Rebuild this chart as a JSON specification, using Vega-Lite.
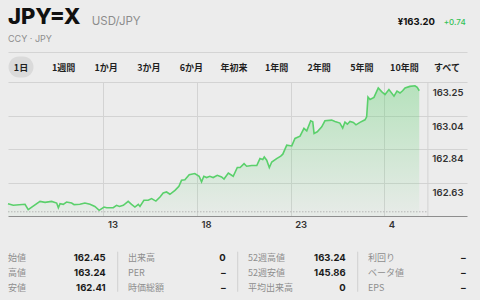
{
  "$schema": "https://vega.github.io/schema/vega-lite/v6.json",
  "background": "#ececec",
  "padding": {"left": 4, "top": 0, "right": 17, "bottom": 0},
  "spacing": 0,
  "bounds": "flush",
  "config": {"view": {"stroke": null}, "font": "Inter"},
  "datasets": {
    "header": [
      {"part": "symbol", "text": "JPY=X"},
      {"part": "name", "text": "USD/JPY"},
      {"part": "exchange", "text": "CCY · JPY"},
      {"part": "price", "text": "¥163.20"},
      {"part": "change", "text": "+0.74"}
    ],
    "tabs": [
      {"tab": "1日", "selected": true},
      {"tab": "1週間", "selected": false},
      {"tab": "1か月", "selected": false},
      {"tab": "3か月", "selected": false},
      {"tab": "6か月", "selected": false},
      {"tab": "年初来", "selected": false},
      {"tab": "1年間", "selected": false},
      {"tab": "2年間", "selected": false},
      {"tab": "5年間", "selected": false},
      {"tab": "10年間", "selected": false},
      {"tab": "すべて", "selected": false}
    ],
    "price": [
      {"t": 7.90, "v": 162.500}, {"t": 8.18, "v": 162.490}, {"t": 8.81, "v": 162.496}, {"t": 8.98, "v": 162.463},
      {"t": 9.17, "v": 162.479}, {"t": 9.61, "v": 162.514}, {"t": 9.88, "v": 162.508}, {"t": 10.23, "v": 162.514},
      {"t": 10.50, "v": 162.504}, {"t": 10.59, "v": 162.475}, {"t": 10.68, "v": 162.500}, {"t": 10.85, "v": 162.496},
      {"t": 11.03, "v": 162.510}, {"t": 11.30, "v": 162.504}, {"t": 11.43, "v": 162.494}, {"t": 11.74, "v": 162.496},
      {"t": 12.01, "v": 162.504}, {"t": 12.28, "v": 162.496}, {"t": 12.54, "v": 162.483}, {"t": 12.77, "v": 162.459},
      {"t": 13.03, "v": 162.479}, {"t": 13.17, "v": 162.475}, {"t": 13.52, "v": 162.475}, {"t": 13.70, "v": 162.490},
      {"t": 13.85, "v": 162.483}, {"t": 14.06, "v": 162.490}, {"t": 14.32, "v": 162.514}, {"t": 14.50, "v": 162.496},
      {"t": 14.68, "v": 162.479}, {"t": 14.86, "v": 162.496}, {"t": 14.95, "v": 162.483}, {"t": 15.16, "v": 162.521},
      {"t": 15.39, "v": 162.521}, {"t": 15.57, "v": 162.531}, {"t": 15.80, "v": 162.516}, {"t": 16.02, "v": 162.541},
      {"t": 16.19, "v": 162.566}, {"t": 16.37, "v": 162.572}, {"t": 16.55, "v": 162.558}, {"t": 16.82, "v": 162.582},
      {"t": 17.03, "v": 162.607}, {"t": 17.17, "v": 162.644}, {"t": 17.35, "v": 162.648}, {"t": 17.58, "v": 162.679},
      {"t": 17.88, "v": 162.686}, {"t": 18.11, "v": 162.669}, {"t": 18.24, "v": 162.634}, {"t": 18.36, "v": 162.669},
      {"t": 18.51, "v": 162.661}, {"t": 18.68, "v": 162.669}, {"t": 18.86, "v": 162.661}, {"t": 19.08, "v": 162.675},
      {"t": 19.31, "v": 162.665}, {"t": 19.44, "v": 162.652}, {"t": 19.67, "v": 162.689}, {"t": 19.93, "v": 162.669},
      {"t": 20.15, "v": 162.723}, {"t": 20.30, "v": 162.723}, {"t": 20.51, "v": 162.747}, {"t": 20.65, "v": 162.731},
      {"t": 20.92, "v": 162.735}, {"t": 21.19, "v": 162.735}, {"t": 21.36, "v": 162.778}, {"t": 21.51, "v": 162.772},
      {"t": 21.59, "v": 162.788}, {"t": 21.72, "v": 162.768}, {"t": 21.86, "v": 162.723}, {"t": 21.99, "v": 162.757},
      {"t": 22.25, "v": 162.778}, {"t": 22.47, "v": 162.793}, {"t": 22.58, "v": 162.805}, {"t": 22.79, "v": 162.861},
      {"t": 23.06, "v": 162.856}, {"t": 23.23, "v": 162.902}, {"t": 23.50, "v": 162.916}, {"t": 23.71, "v": 162.964},
      {"t": 23.86, "v": 162.949}, {"t": 24.07, "v": 163.011}, {"t": 24.18, "v": 163.005}, {"t": 24.25, "v": 162.933},
      {"t": 24.42, "v": 162.943}, {"t": 24.66, "v": 162.974}, {"t": 24.83, "v": 163.011}, {"t": 25.19, "v": 163.015},
      {"t": 25.37, "v": 163.007}, {"t": 25.63, "v": 162.997}, {"t": 25.78, "v": 162.966}, {"t": 25.90, "v": 163.003},
      {"t": 26.03, "v": 162.990}, {"t": 26.17, "v": 163.007}, {"t": 26.35, "v": 163.001}, {"t": 26.49, "v": 162.986},
      {"t": 26.70, "v": 163.001}, {"t": 26.97, "v": 163.017}, {"t": 27.06, "v": 163.035}, {"t": 27.13, "v": 163.157},
      {"t": 27.24, "v": 163.142}, {"t": 27.45, "v": 163.155}, {"t": 27.68, "v": 163.213}, {"t": 27.86, "v": 163.191},
      {"t": 28.04, "v": 163.173}, {"t": 28.25, "v": 163.204}, {"t": 28.52, "v": 163.163}, {"t": 28.68, "v": 163.194},
      {"t": 28.84, "v": 163.182}, {"t": 28.98, "v": 163.196}, {"t": 29.11, "v": 163.213}, {"t": 29.37, "v": 163.223},
      {"t": 29.64, "v": 163.227}, {"t": 29.76, "v": 163.217}, {"t": 29.87, "v": 163.196}
    ],
    "ref": [{"prevClose": 162.45}],
    "stats": [
      {"col": 1, "row": 1, "label": "始値", "value": "162.45"},
      {"col": 1, "row": 2, "label": "高値", "value": "163.24"},
      {"col": 1, "row": 3, "label": "安値", "value": "162.41"},
      {"col": 2, "row": 1, "label": "出来高", "value": "0"},
      {"col": 2, "row": 2, "label": "PER", "value": "–"},
      {"col": 2, "row": 3, "label": "時価総額", "value": "–"},
      {"col": 3, "row": 1, "label": "52週高値", "value": "163.24"},
      {"col": 3, "row": 2, "label": "52週安値", "value": "145.86"},
      {"col": 3, "row": 3, "label": "平均出来高", "value": "0"},
      {"col": 4, "row": 1, "label": "利回り", "value": "–"},
      {"col": 4, "row": 2, "label": "ベータ値", "value": "–"},
      {"col": 4, "row": 3, "label": "EPS", "value": "–"}
    ]
  },
  "vconcat": [
    {
      "width": 459,
      "height": 52,
      "data": {"name": "header"},
      "layer": [
        {
          "transform": [{"filter": "datum.part === 'symbol'"}],
          "mark": {"type": "text", "align": "left", "baseline": "alphabetic", "dy": -2, "font": "Inter", "fontSize": 22, "fontWeight": 800, "color": "#111111"},
          "encoding": {
            "x": {"datum": 0, "type": "quantitative", "scale": {"domain": [0, 1], "range": [0, 459]},
                  "axis": {"orient": "bottom", "domain": true, "domainColor": "#d4d4d4", "labels": false, "ticks": false, "grid": false, "title": null}},
            "text": {"field": "text"}
          }
        },
        {
          "transform": [{"filter": "datum.part === 'name'"}],
          "mark": {"type": "text", "align": "left", "baseline": "alphabetic", "dx": 83.7, "dy": -1, "font": "Inter", "fontSize": 11.5, "color": "#8c8c8c"},
          "encoding": {"x": {"datum": 0, "type": "quantitative"}, "text": {"field": "text"}}
        },
        {
          "transform": [{"filter": "datum.part === 'exchange'"}],
          "mark": {"type": "text", "align": "left", "baseline": "alphabetic", "dy": 15.7, "font": "Inter", "fontSize": 9, "color": "#8e8e8e"},
          "encoding": {"x": {"datum": 0, "type": "quantitative"}, "text": {"field": "text"}}
        },
        {
          "transform": [{"filter": "datum.part === 'price'"}],
          "mark": {"type": "text", "align": "right", "baseline": "alphabetic", "dx": -32, "dy": -1, "font": "Inter", "fontSize": 9.5, "fontWeight": 700, "color": "#111111"},
          "encoding": {"x": {"datum": 1, "type": "quantitative"}, "text": {"field": "text"}}
        },
        {
          "transform": [{"filter": "datum.part === 'change'"}],
          "mark": {"type": "text", "align": "right", "baseline": "alphabetic", "dx": -1.3, "dy": -1.3, "font": "Inter", "fontSize": 8, "fontWeight": 500, "color": "#35c257"},
          "encoding": {"x": {"datum": 1, "type": "quantitative"}, "text": {"field": "text"}}
        }
      ]
    },
    {
      "width": 459,
      "height": 30,
      "data": {"name": "tabs"},
      "layer": [
        {
          "transform": [{"filter": "datum.selected"}],
          "mark": {"type": "bar", "width": 25, "cornerRadius": 10.5, "color": "#dadada"},
          "encoding": {
            "x": {"field": "tab", "type": "nominal", "sort": null, "scale": {"type": "point", "range": [13, 439], "padding": 0}, "axis": null},
            "y": {"datum": "sel", "type": "nominal", "scale": {"type": "band", "paddingOuter": 0.214, "paddingInner": 0}, "axis": null}
          }
        },
        {
          "mark": {"type": "text", "baseline": "middle", "dy": 0.7, "font": "Noto Sans CJK JP", "fontSize": 9, "fontWeight": 700, "color": "#1f1f1f"},
          "encoding": {
            "x": {"field": "tab", "type": "nominal", "sort": null, "axis": null},
            "text": {"field": "tab"}
          }
        }
      ]
    },
    {
      "width": 459,
      "height": 134,
      "layer": [
        {
          "data": {"name": "price"},
          "mark": {"type": "area", "color": {"x1": 0, "y1": 0, "x2": 0, "y2": 1, "gradient": "linear", "stops": [{"offset": 0, "color": "rgba(88,208,106,0.36)"}, {"offset": 1, "color": "rgba(88,208,106,0.03)"}]}},
          "encoding": {
            "x": {"field": "t", "type": "quantitative", "scale": {"domain": [7.9, 32.42], "nice": false, "zero": false},
                  "axis": {"values": [13, 18, 23, 28], "labelExpr": "datum.value > 24 ? datum.value - 24 : datum.value", "grid": true, "gridColor": "#d3d3d3", "ticks": false, "domain": true, "domainColor": "#8e8e8e", "labelAlign": "left", "labelBaseline": "top", "labelPadding": 3, "labelOffset": 4, "labelFont": "Inter", "labelFontSize": 9.5, "labelFontWeight": 600, "labelColor": "#333333", "labelFlush": false, "title": null}},
            "y": {"field": "v", "type": "quantitative", "scale": {"domain": [162.424, 163.25], "nice": false, "zero": false},
                  "axis": {"orient": "right", "values": [163.25, 163.04, 162.84, 162.63], "format": ".2f", "grid": true, "gridColor": "#d3d3d3", "ticks": false, "domain": false, "labelAlign": "right", "labelBaseline": "middle", "labelPadding": -4, "labelOffset": 10, "labelFont": "Inter", "labelFontSize": 9.5, "labelFontWeight": 600, "labelColor": "#333333", "labelFlush": false, "labelOverlap": false, "title": null}},
            "y2": {"datum": 162.424}
          }
        },
        {
          "data": {"name": "price"},
          "mark": {"type": "line", "color": "#5ad06b", "strokeWidth": 1.6},
          "encoding": {
            "x": {"field": "t", "type": "quantitative"},
            "y": {"field": "v", "type": "quantitative"}
          }
        },
        {
          "data": {"name": "ref"},
          "mark": {"type": "rule", "color": "#b5b5b5", "strokeWidth": 1, "strokeDash": [1.5, 1.5]},
          "encoding": {
            "y": {"field": "prevClose", "type": "quantitative"},
            "x": {"datum": 7.9, "type": "quantitative"},
            "x2": {"datum": 30.33}
          }
        },
        {
          "data": {"name": "ref"},
          "mark": {"type": "rule", "color": "#d3d3d3", "strokeWidth": 1},
          "encoding": {
            "x": {"datum": 30.33, "type": "quantitative"}
          }
        }
      ]
    },
    {
      "width": 459,
      "height": 84,
      "data": {"name": "stats"},
      "resolve": {"scale": {"x": "independent"}},
      "layer": [
        {
          "mark": {"type": "text", "align": "left", "baseline": "middle", "font": "Noto Sans CJK JP", "fontSize": 9, "color": "#8e8e8e"},
          "encoding": {
            "x": {"field": "col", "type": "quantitative", "scale": {"domain": [1, 4], "range": [0, 360]}, "axis": null},
            "y": {"field": "row", "type": "quantitative", "scale": {"domain": [1, 3], "range": [41.7, 71.7]}, "axis": null},
            "text": {"field": "label"}
          }
        },
        {
          "mark": {"type": "text", "align": "right", "baseline": "middle", "font": "Inter", "fontSize": 9.5, "fontWeight": 700, "color": "#1a1a1a"},
          "encoding": {
            "x": {"field": "col", "type": "quantitative", "scale": {"domain": [1, 4], "range": [97.7, 457.7]}, "axis": null},
            "y": {"field": "row", "type": "quantitative"},
            "text": {"field": "value"}
          }
        },
        {
          "transform": [{"filter": "datum.row === 1 && datum.col < 4"}],
          "mark": {"type": "rule", "color": "#d0d0d0", "strokeWidth": 1},
          "encoding": {
            "x": {"field": "col", "type": "quantitative", "scale": {"domain": [1, 3], "range": [109.7, 349.7]}, "axis": null},
            "y": {"datum": 0.6, "type": "quantitative"},
            "y2": {"datum": 3.27}
          }
        }
      ]
    }
  ]
}
